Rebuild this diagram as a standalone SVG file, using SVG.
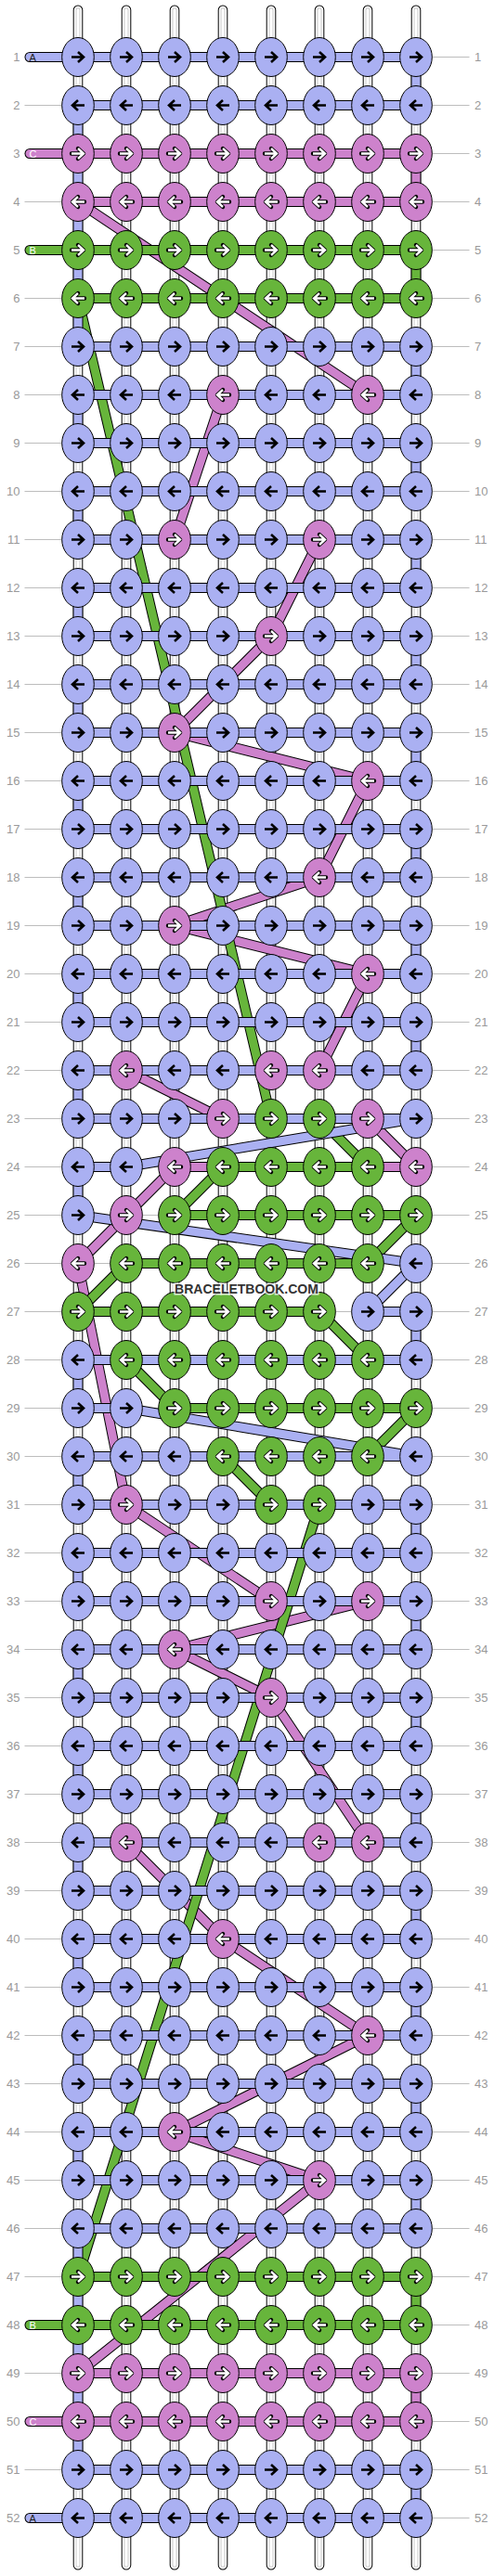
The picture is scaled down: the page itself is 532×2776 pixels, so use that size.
<svg xmlns="http://www.w3.org/2000/svg" xmlns:xlink="http://www.w3.org/1999/xlink" width="532" height="2776" viewBox="0 0 532 2776">
<style>
.gl{fill:none;stroke:#bdbdbd;stroke-width:1}
.ln{font-family:"Liberation Sans",Arial,sans-serif;font-size:13px;fill:#999}
.le{text-anchor:end}
.s1{fill:none;stroke:#000;stroke-width:10.6;stroke-linecap:round}
.s2{fill:none;stroke:#fff;stroke-width:8.6;stroke-linecap:round}
.s3{fill:none;stroke:#c8c8c8;stroke-width:5;stroke-linecap:round}
.s4{fill:none;stroke:#fff;stroke-width:3;stroke-linecap:round}
.to{fill:none;stroke:#000;stroke-width:11;stroke-linecap:round;stroke-linejoin:round}
.tc{fill:none;stroke-width:9;stroke-linecap:round;stroke-linejoin:round}
.cp{stroke:#cd82cc}
.cg{stroke:#67b53b}
.cb{stroke:#aab0f2}
.kb{fill:#aab0f2;stroke:#000;stroke-width:1}
.kp{fill:#cd82cc;stroke:#000;stroke-width:1}
.kg{fill:#67b53b;stroke:#000;stroke-width:1}
.ab{fill:none;stroke:#000;stroke-width:2.6}
.ao{fill:none;stroke:#000;stroke-width:4.4;stroke-linejoin:round;stroke-linecap:round}
.aw{fill:none;stroke:#fff;stroke-width:2.4}
.pl{font-family:"Liberation Sans",Arial,sans-serif;font-size:11px}
.wm{font-family:"Liberation Sans",Arial,sans-serif;font-weight:bold;font-size:14px;fill:#333;text-anchor:middle;stroke:#fff;stroke-opacity:.75;stroke-width:3;paint-order:stroke}
</style>
<defs>
<path id="st" d="M0,-50.7V2702.7M52,-50.7V2702.7M104,-50.7V2702.7M156,-50.7V2702.7M208,-50.7V2702.7M260,-50.7V2702.7M312,-50.7V2702.7M364,-50.7V2702.7"/>
<path id="tP" d="M-52,104H364V156H0L312,364H156L104,520H260L208,624L104,728L312,780L260,884L104,936L312,988L260,1092H52L156,1144H312L364,1196H104L52,1248L0,1300L52,1560L208,1664H312L104,1716L208,1768L312,1924H52L156,2028L312,2132L104,2236L260,2288L0,2496H364V2548H-52"/>
<path id="tG" d="M-52,208H364V260H0L208,1144H260L312,1196H156L104,1248H364L312,1300H52L0,1352H260L312,1404H52L104,1456H364L312,1508H156L208,1560H260L0,2392H364V2444H-52"/>
<path id="tB" d="M-52,0H364V52H0V312H364V364H0V416H364V468H0V520H364V572H0V624H364V676H0V728H364V780H0V832H364V884H0V936H364V988H0V1040H364V1092H0V1144H364L52,1196H0V1248L364,1300L312,1352H364V1404H0V1456H52L364,1508H0V1560H364V1612H0V1664H364V1716H0V1768H364V1820H0V1872H364V1924H0V1976H364V2028H0V2080H364V2132H0V2184H364V2236H0V2288H364V2340H0V2600H364V2652H-52"/>
<path id="aR" d="M-7,0H5M0,-5.5L6,0L0,5.5"/>
<path id="aL" d="M7,0H-5M0,-5.5L-6,0L0,5.5"/>
<g id="bR"><ellipse class="kb" rx="17.3" ry="21"/><use href="#aR" class="ab"/></g>
<g id="bL"><ellipse class="kb" rx="17.3" ry="21"/><use href="#aL" class="ab"/></g>
<g id="pR"><ellipse class="kp" rx="17.3" ry="21"/><use href="#aR" class="ao"/><use href="#aR" class="aw"/></g>
<g id="pL"><ellipse class="kp" rx="17.3" ry="21"/><use href="#aL" class="ao"/><use href="#aL" class="aw"/></g>
<g id="gR"><ellipse class="kg" rx="17.3" ry="21"/><use href="#aR" class="ao"/><use href="#aR" class="aw"/></g>
<g id="gL"><ellipse class="kg" rx="17.3" ry="21"/><use href="#aL" class="ao"/><use href="#aL" class="aw"/></g>
</defs>
<rect width="532" height="2776" fill="#fff"/>
<g transform="translate(84,61.5)">
<path class="gl" d="M-57.5,0h479M-57.5,52h479M-57.5,104h479M-57.5,156h479M-57.5,208h479M-57.5,260h479M-57.5,312h479M-57.5,364h479M-57.5,416h479M-57.5,468h479M-57.5,520h479M-57.5,572h479M-57.5,624h479M-57.5,676h479M-57.5,728h479M-57.5,780h479M-57.5,832h479M-57.5,884h479M-57.5,936h479M-57.5,988h479M-57.5,1040h479M-57.5,1092h479M-57.5,1144h479M-57.5,1196h479M-57.5,1248h479M-57.5,1300h479M-57.5,1352h479M-57.5,1404h479M-57.5,1456h479M-57.5,1508h479M-57.5,1560h479M-57.5,1612h479M-57.5,1664h479M-57.5,1716h479M-57.5,1768h479M-57.5,1820h479M-57.5,1872h479M-57.5,1924h479M-57.5,1976h479M-57.5,2028h479M-57.5,2080h479M-57.5,2132h479M-57.5,2184h479M-57.5,2236h479M-57.5,2288h479M-57.5,2340h479M-57.5,2392h479M-57.5,2444h479M-57.5,2496h479M-57.5,2548h479M-57.5,2600h479M-57.5,2652h479"/>
<g class="ln le" transform="translate(-62.5,4.6)">
<text y="0">1</text><text y="52">2</text><text y="104">3</text><text y="156">4</text><text y="208">5</text><text y="260">6</text><text y="312">7</text><text y="364">8</text><text y="416">9</text><text y="468">10</text><text y="520">11</text><text y="572">12</text><text y="624">13</text><text y="676">14</text><text y="728">15</text><text y="780">16</text><text y="832">17</text><text y="884">18</text><text y="936">19</text><text y="988">20</text><text y="1040">21</text><text y="1092">22</text><text y="1144">23</text><text y="1196">24</text><text y="1248">25</text><text y="1300">26</text><text y="1352">27</text><text y="1404">28</text><text y="1456">29</text><text y="1508">30</text><text y="1560">31</text><text y="1612">32</text><text y="1664">33</text><text y="1716">34</text><text y="1768">35</text><text y="1820">36</text><text y="1872">37</text><text y="1924">38</text><text y="1976">39</text><text y="2028">40</text><text y="2080">41</text><text y="2132">42</text><text y="2184">43</text><text y="2236">44</text><text y="2288">45</text><text y="2340">46</text><text y="2392">47</text><text y="2444">48</text><text y="2496">49</text><text y="2548">50</text><text y="2600">51</text><text y="2652">52</text>
</g>
<g class="ln" transform="translate(427,4.6)">
<text y="0">1</text><text y="52">2</text><text y="104">3</text><text y="156">4</text><text y="208">5</text><text y="260">6</text><text y="312">7</text><text y="364">8</text><text y="416">9</text><text y="468">10</text><text y="520">11</text><text y="572">12</text><text y="624">13</text><text y="676">14</text><text y="728">15</text><text y="780">16</text><text y="832">17</text><text y="884">18</text><text y="936">19</text><text y="988">20</text><text y="1040">21</text><text y="1092">22</text><text y="1144">23</text><text y="1196">24</text><text y="1248">25</text><text y="1300">26</text><text y="1352">27</text><text y="1404">28</text><text y="1456">29</text><text y="1508">30</text><text y="1560">31</text><text y="1612">32</text><text y="1664">33</text><text y="1716">34</text><text y="1768">35</text><text y="1820">36</text><text y="1872">37</text><text y="1924">38</text><text y="1976">39</text><text y="2028">40</text><text y="2080">41</text><text y="2132">42</text><text y="2184">43</text><text y="2236">44</text><text y="2288">45</text><text y="2340">46</text><text y="2392">47</text><text y="2444">48</text><text y="2496">49</text><text y="2548">50</text><text y="2600">51</text><text y="2652">52</text>
</g>
<g id="connectors">
<use href="#st" class="s1"/><use href="#st" class="s2"/><use href="#st" class="s3"/><use href="#st" class="s4"/>
<use href="#tP" class="to"/><use href="#tP" class="tc cp"/>
<use href="#tG" class="to"/><use href="#tG" class="tc cg"/>
<use href="#tB" class="to"/><use href="#tB" class="tc cb"/>
</g>
<g class="pl">
<text x="-52.5" y="4" fill="#222">A</text><text x="-52.5" y="108" fill="#fff">C</text><text x="-52.5" y="212" fill="#fff">B</text>
<text x="-52.5" y="2448" fill="#fff">B</text><text x="-52.5" y="2552" fill="#fff">C</text><text x="-52.5" y="2656" fill="#222">A</text>
</g>
<g id="knots">
<g id="row1"><use id="n1_1" href="#bR"/><use id="n1_2" href="#bR" x="52"/><use id="n1_3" href="#bR" x="104"/><use id="n1_4" href="#bR" x="156"/><use id="n1_5" href="#bR" x="208"/><use id="n1_6" href="#bR" x="260"/><use id="n1_7" href="#bR" x="312"/><use id="n1_8" href="#bR" x="364"/></g>
<g id="row2" transform="translate(0,52)"><use id="n2_1" href="#bL"/><use id="n2_2" href="#bL" x="52"/><use id="n2_3" href="#bL" x="104"/><use id="n2_4" href="#bL" x="156"/><use id="n2_5" href="#bL" x="208"/><use id="n2_6" href="#bL" x="260"/><use id="n2_7" href="#bL" x="312"/><use id="n2_8" href="#bL" x="364"/></g>
<g id="row3" transform="translate(0,104)"><use id="n3_1" href="#pR"/><use id="n3_2" href="#pR" x="52"/><use id="n3_3" href="#pR" x="104"/><use id="n3_4" href="#pR" x="156"/><use id="n3_5" href="#pR" x="208"/><use id="n3_6" href="#pR" x="260"/><use id="n3_7" href="#pR" x="312"/><use id="n3_8" href="#pR" x="364"/></g>
<g id="row4" transform="translate(0,156)"><use id="n4_1" href="#pL"/><use id="n4_2" href="#pL" x="52"/><use id="n4_3" href="#pL" x="104"/><use id="n4_4" href="#pL" x="156"/><use id="n4_5" href="#pL" x="208"/><use id="n4_6" href="#pL" x="260"/><use id="n4_7" href="#pL" x="312"/><use id="n4_8" href="#pL" x="364"/></g>
<g id="row5" transform="translate(0,208)"><use id="n5_1" href="#gR"/><use id="n5_2" href="#gR" x="52"/><use id="n5_3" href="#gR" x="104"/><use id="n5_4" href="#gR" x="156"/><use id="n5_5" href="#gR" x="208"/><use id="n5_6" href="#gR" x="260"/><use id="n5_7" href="#gR" x="312"/><use id="n5_8" href="#gR" x="364"/></g>
<g id="row6" transform="translate(0,260)"><use id="n6_1" href="#gL"/><use id="n6_2" href="#gL" x="52"/><use id="n6_3" href="#gL" x="104"/><use id="n6_4" href="#gL" x="156"/><use id="n6_5" href="#gL" x="208"/><use id="n6_6" href="#gL" x="260"/><use id="n6_7" href="#gL" x="312"/><use id="n6_8" href="#gL" x="364"/></g>
<g id="row7" transform="translate(0,312)"><use id="n7_1" href="#bR"/><use id="n7_2" href="#bR" x="52"/><use id="n7_3" href="#bR" x="104"/><use id="n7_4" href="#bR" x="156"/><use id="n7_5" href="#bR" x="208"/><use id="n7_6" href="#bR" x="260"/><use id="n7_7" href="#bR" x="312"/><use id="n7_8" href="#bR" x="364"/></g>
<g id="row8" transform="translate(0,364)"><use id="n8_1" href="#bL"/><use id="n8_2" href="#bL" x="52"/><use id="n8_3" href="#bL" x="104"/><use id="n8_4" href="#pL" x="156"/><use id="n8_5" href="#bL" x="208"/><use id="n8_6" href="#bL" x="260"/><use id="n8_7" href="#pL" x="312"/><use id="n8_8" href="#bL" x="364"/></g>
<g id="row9" transform="translate(0,416)"><use id="n9_1" href="#bR"/><use id="n9_2" href="#bR" x="52"/><use id="n9_3" href="#bR" x="104"/><use id="n9_4" href="#bR" x="156"/><use id="n9_5" href="#bR" x="208"/><use id="n9_6" href="#bR" x="260"/><use id="n9_7" href="#bR" x="312"/><use id="n9_8" href="#bR" x="364"/></g>
<g id="row10" transform="translate(0,468)"><use id="n10_1" href="#bL"/><use id="n10_2" href="#bL" x="52"/><use id="n10_3" href="#bL" x="104"/><use id="n10_4" href="#bL" x="156"/><use id="n10_5" href="#bL" x="208"/><use id="n10_6" href="#bL" x="260"/><use id="n10_7" href="#bL" x="312"/><use id="n10_8" href="#bL" x="364"/></g>
<g id="row11" transform="translate(0,520)"><use id="n11_1" href="#bR"/><use id="n11_2" href="#bR" x="52"/><use id="n11_3" href="#pR" x="104"/><use id="n11_4" href="#bR" x="156"/><use id="n11_5" href="#bR" x="208"/><use id="n11_6" href="#pR" x="260"/><use id="n11_7" href="#bR" x="312"/><use id="n11_8" href="#bR" x="364"/></g>
<g id="row12" transform="translate(0,572)"><use id="n12_1" href="#bL"/><use id="n12_2" href="#bL" x="52"/><use id="n12_3" href="#bL" x="104"/><use id="n12_4" href="#bL" x="156"/><use id="n12_5" href="#bL" x="208"/><use id="n12_6" href="#bL" x="260"/><use id="n12_7" href="#bL" x="312"/><use id="n12_8" href="#bL" x="364"/></g>
<g id="row13" transform="translate(0,624)"><use id="n13_1" href="#bR"/><use id="n13_2" href="#bR" x="52"/><use id="n13_3" href="#bR" x="104"/><use id="n13_4" href="#bR" x="156"/><use id="n13_5" href="#pR" x="208"/><use id="n13_6" href="#bR" x="260"/><use id="n13_7" href="#bR" x="312"/><use id="n13_8" href="#bR" x="364"/></g>
<g id="row14" transform="translate(0,676)"><use id="n14_1" href="#bL"/><use id="n14_2" href="#bL" x="52"/><use id="n14_3" href="#bL" x="104"/><use id="n14_4" href="#bL" x="156"/><use id="n14_5" href="#bL" x="208"/><use id="n14_6" href="#bL" x="260"/><use id="n14_7" href="#bL" x="312"/><use id="n14_8" href="#bL" x="364"/></g>
<g id="row15" transform="translate(0,728)"><use id="n15_1" href="#bR"/><use id="n15_2" href="#bR" x="52"/><use id="n15_3" href="#pR" x="104"/><use id="n15_4" href="#bR" x="156"/><use id="n15_5" href="#bR" x="208"/><use id="n15_6" href="#bR" x="260"/><use id="n15_7" href="#bR" x="312"/><use id="n15_8" href="#bR" x="364"/></g>
<g id="row16" transform="translate(0,780)"><use id="n16_1" href="#bL"/><use id="n16_2" href="#bL" x="52"/><use id="n16_3" href="#bL" x="104"/><use id="n16_4" href="#bL" x="156"/><use id="n16_5" href="#bL" x="208"/><use id="n16_6" href="#bL" x="260"/><use id="n16_7" href="#pL" x="312"/><use id="n16_8" href="#bL" x="364"/></g>
<g id="row17" transform="translate(0,832)"><use id="n17_1" href="#bR"/><use id="n17_2" href="#bR" x="52"/><use id="n17_3" href="#bR" x="104"/><use id="n17_4" href="#bR" x="156"/><use id="n17_5" href="#bR" x="208"/><use id="n17_6" href="#bR" x="260"/><use id="n17_7" href="#bR" x="312"/><use id="n17_8" href="#bR" x="364"/></g>
<g id="row18" transform="translate(0,884)"><use id="n18_1" href="#bL"/><use id="n18_2" href="#bL" x="52"/><use id="n18_3" href="#bL" x="104"/><use id="n18_4" href="#bL" x="156"/><use id="n18_5" href="#bL" x="208"/><use id="n18_6" href="#pL" x="260"/><use id="n18_7" href="#bL" x="312"/><use id="n18_8" href="#bL" x="364"/></g>
<g id="row19" transform="translate(0,936)"><use id="n19_1" href="#bR"/><use id="n19_2" href="#bR" x="52"/><use id="n19_3" href="#pR" x="104"/><use id="n19_4" href="#bR" x="156"/><use id="n19_5" href="#bR" x="208"/><use id="n19_6" href="#bR" x="260"/><use id="n19_7" href="#bR" x="312"/><use id="n19_8" href="#bR" x="364"/></g>
<g id="row20" transform="translate(0,988)"><use id="n20_1" href="#bL"/><use id="n20_2" href="#bL" x="52"/><use id="n20_3" href="#bL" x="104"/><use id="n20_4" href="#bL" x="156"/><use id="n20_5" href="#bL" x="208"/><use id="n20_6" href="#bL" x="260"/><use id="n20_7" href="#pL" x="312"/><use id="n20_8" href="#bL" x="364"/></g>
<g id="row21" transform="translate(0,1040)"><use id="n21_1" href="#bR"/><use id="n21_2" href="#bR" x="52"/><use id="n21_3" href="#bR" x="104"/><use id="n21_4" href="#bR" x="156"/><use id="n21_5" href="#bR" x="208"/><use id="n21_6" href="#bR" x="260"/><use id="n21_7" href="#bR" x="312"/><use id="n21_8" href="#bR" x="364"/></g>
<g id="row22" transform="translate(0,1092)"><use id="n22_1" href="#bL"/><use id="n22_2" href="#pL" x="52"/><use id="n22_3" href="#bL" x="104"/><use id="n22_4" href="#bL" x="156"/><use id="n22_5" href="#pL" x="208"/><use id="n22_6" href="#pL" x="260"/><use id="n22_7" href="#bL" x="312"/><use id="n22_8" href="#bL" x="364"/></g>
<g id="row23" transform="translate(0,1144)"><use id="n23_1" href="#bR"/><use id="n23_2" href="#bR" x="52"/><use id="n23_3" href="#bR" x="104"/><use id="n23_4" href="#pR" x="156"/><use id="n23_5" href="#gR" x="208"/><use id="n23_6" href="#gR" x="260"/><use id="n23_7" href="#pR" x="312"/><use id="n23_8" href="#bR" x="364"/></g>
<g id="row24" transform="translate(0,1196)"><use id="n24_1" href="#bL"/><use id="n24_2" href="#bL" x="52"/><use id="n24_3" href="#pL" x="104"/><use id="n24_4" href="#gL" x="156"/><use id="n24_5" href="#gL" x="208"/><use id="n24_6" href="#gL" x="260"/><use id="n24_7" href="#gL" x="312"/><use id="n24_8" href="#pL" x="364"/></g>
<g id="row25" transform="translate(0,1248)"><use id="n25_1" href="#bR"/><use id="n25_2" href="#pR" x="52"/><use id="n25_3" href="#gR" x="104"/><use id="n25_4" href="#gR" x="156"/><use id="n25_5" href="#gR" x="208"/><use id="n25_6" href="#gR" x="260"/><use id="n25_7" href="#gR" x="312"/><use id="n25_8" href="#gR" x="364"/></g>
<g id="row26" transform="translate(0,1300)"><use id="n26_1" href="#pL"/><use id="n26_2" href="#gL" x="52"/><use id="n26_3" href="#gL" x="104"/><use id="n26_4" href="#gL" x="156"/><use id="n26_5" href="#gL" x="208"/><use id="n26_6" href="#gL" x="260"/><use id="n26_7" href="#gL" x="312"/><use id="n26_8" href="#bL" x="364"/></g>
<g id="row27" transform="translate(0,1352)"><use id="n27_1" href="#gR"/><use id="n27_2" href="#gR" x="52"/><use id="n27_3" href="#gR" x="104"/><use id="n27_4" href="#gR" x="156"/><use id="n27_5" href="#gR" x="208"/><use id="n27_6" href="#gR" x="260"/><use id="n27_7" href="#bR" x="312"/><use id="n27_8" href="#bR" x="364"/></g>
<g id="row28" transform="translate(0,1404)"><use id="n28_1" href="#bL"/><use id="n28_2" href="#gL" x="52"/><use id="n28_3" href="#gL" x="104"/><use id="n28_4" href="#gL" x="156"/><use id="n28_5" href="#gL" x="208"/><use id="n28_6" href="#gL" x="260"/><use id="n28_7" href="#gL" x="312"/><use id="n28_8" href="#bL" x="364"/></g>
<g id="row29" transform="translate(0,1456)"><use id="n29_1" href="#bR"/><use id="n29_2" href="#bR" x="52"/><use id="n29_3" href="#gR" x="104"/><use id="n29_4" href="#gR" x="156"/><use id="n29_5" href="#gR" x="208"/><use id="n29_6" href="#gR" x="260"/><use id="n29_7" href="#gR" x="312"/><use id="n29_8" href="#gR" x="364"/></g>
<g id="row30" transform="translate(0,1508)"><use id="n30_1" href="#bL"/><use id="n30_2" href="#bL" x="52"/><use id="n30_3" href="#bL" x="104"/><use id="n30_4" href="#gL" x="156"/><use id="n30_5" href="#gL" x="208"/><use id="n30_6" href="#gL" x="260"/><use id="n30_7" href="#gL" x="312"/><use id="n30_8" href="#bL" x="364"/></g>
<g id="row31" transform="translate(0,1560)"><use id="n31_1" href="#bR"/><use id="n31_2" href="#pR" x="52"/><use id="n31_3" href="#bR" x="104"/><use id="n31_4" href="#bR" x="156"/><use id="n31_5" href="#gR" x="208"/><use id="n31_6" href="#gR" x="260"/><use id="n31_7" href="#bR" x="312"/><use id="n31_8" href="#bR" x="364"/></g>
<g id="row32" transform="translate(0,1612)"><use id="n32_1" href="#bL"/><use id="n32_2" href="#bL" x="52"/><use id="n32_3" href="#bL" x="104"/><use id="n32_4" href="#bL" x="156"/><use id="n32_5" href="#bL" x="208"/><use id="n32_6" href="#bL" x="260"/><use id="n32_7" href="#bL" x="312"/><use id="n32_8" href="#bL" x="364"/></g>
<g id="row33" transform="translate(0,1664)"><use id="n33_1" href="#bR"/><use id="n33_2" href="#bR" x="52"/><use id="n33_3" href="#bR" x="104"/><use id="n33_4" href="#bR" x="156"/><use id="n33_5" href="#pR" x="208"/><use id="n33_6" href="#bR" x="260"/><use id="n33_7" href="#pR" x="312"/><use id="n33_8" href="#bR" x="364"/></g>
<g id="row34" transform="translate(0,1716)"><use id="n34_1" href="#bL"/><use id="n34_2" href="#bL" x="52"/><use id="n34_3" href="#pL" x="104"/><use id="n34_4" href="#bL" x="156"/><use id="n34_5" href="#bL" x="208"/><use id="n34_6" href="#bL" x="260"/><use id="n34_7" href="#bL" x="312"/><use id="n34_8" href="#bL" x="364"/></g>
<g id="row35" transform="translate(0,1768)"><use id="n35_1" href="#bR"/><use id="n35_2" href="#bR" x="52"/><use id="n35_3" href="#bR" x="104"/><use id="n35_4" href="#bR" x="156"/><use id="n35_5" href="#pR" x="208"/><use id="n35_6" href="#bR" x="260"/><use id="n35_7" href="#bR" x="312"/><use id="n35_8" href="#bR" x="364"/></g>
<g id="row36" transform="translate(0,1820)"><use id="n36_1" href="#bL"/><use id="n36_2" href="#bL" x="52"/><use id="n36_3" href="#bL" x="104"/><use id="n36_4" href="#bL" x="156"/><use id="n36_5" href="#bL" x="208"/><use id="n36_6" href="#bL" x="260"/><use id="n36_7" href="#bL" x="312"/><use id="n36_8" href="#bL" x="364"/></g>
<g id="row37" transform="translate(0,1872)"><use id="n37_1" href="#bR"/><use id="n37_2" href="#bR" x="52"/><use id="n37_3" href="#bR" x="104"/><use id="n37_4" href="#bR" x="156"/><use id="n37_5" href="#bR" x="208"/><use id="n37_6" href="#bR" x="260"/><use id="n37_7" href="#bR" x="312"/><use id="n37_8" href="#bR" x="364"/></g>
<g id="row38" transform="translate(0,1924)"><use id="n38_1" href="#bL"/><use id="n38_2" href="#pL" x="52"/><use id="n38_3" href="#bL" x="104"/><use id="n38_4" href="#bL" x="156"/><use id="n38_5" href="#bL" x="208"/><use id="n38_6" href="#pL" x="260"/><use id="n38_7" href="#pL" x="312"/><use id="n38_8" href="#bL" x="364"/></g>
<g id="row39" transform="translate(0,1976)"><use id="n39_1" href="#bR"/><use id="n39_2" href="#bR" x="52"/><use id="n39_3" href="#bR" x="104"/><use id="n39_4" href="#bR" x="156"/><use id="n39_5" href="#bR" x="208"/><use id="n39_6" href="#bR" x="260"/><use id="n39_7" href="#bR" x="312"/><use id="n39_8" href="#bR" x="364"/></g>
<g id="row40" transform="translate(0,2028)"><use id="n40_1" href="#bL"/><use id="n40_2" href="#bL" x="52"/><use id="n40_3" href="#bL" x="104"/><use id="n40_4" href="#pL" x="156"/><use id="n40_5" href="#bL" x="208"/><use id="n40_6" href="#bL" x="260"/><use id="n40_7" href="#bL" x="312"/><use id="n40_8" href="#bL" x="364"/></g>
<g id="row41" transform="translate(0,2080)"><use id="n41_1" href="#bR"/><use id="n41_2" href="#bR" x="52"/><use id="n41_3" href="#bR" x="104"/><use id="n41_4" href="#bR" x="156"/><use id="n41_5" href="#bR" x="208"/><use id="n41_6" href="#bR" x="260"/><use id="n41_7" href="#bR" x="312"/><use id="n41_8" href="#bR" x="364"/></g>
<g id="row42" transform="translate(0,2132)"><use id="n42_1" href="#bL"/><use id="n42_2" href="#bL" x="52"/><use id="n42_3" href="#bL" x="104"/><use id="n42_4" href="#bL" x="156"/><use id="n42_5" href="#bL" x="208"/><use id="n42_6" href="#bL" x="260"/><use id="n42_7" href="#pL" x="312"/><use id="n42_8" href="#bL" x="364"/></g>
<g id="row43" transform="translate(0,2184)"><use id="n43_1" href="#bR"/><use id="n43_2" href="#bR" x="52"/><use id="n43_3" href="#bR" x="104"/><use id="n43_4" href="#bR" x="156"/><use id="n43_5" href="#bR" x="208"/><use id="n43_6" href="#bR" x="260"/><use id="n43_7" href="#bR" x="312"/><use id="n43_8" href="#bR" x="364"/></g>
<g id="row44" transform="translate(0,2236)"><use id="n44_1" href="#bL"/><use id="n44_2" href="#bL" x="52"/><use id="n44_3" href="#pL" x="104"/><use id="n44_4" href="#bL" x="156"/><use id="n44_5" href="#bL" x="208"/><use id="n44_6" href="#bL" x="260"/><use id="n44_7" href="#bL" x="312"/><use id="n44_8" href="#bL" x="364"/></g>
<g id="row45" transform="translate(0,2288)"><use id="n45_1" href="#bR"/><use id="n45_2" href="#bR" x="52"/><use id="n45_3" href="#bR" x="104"/><use id="n45_4" href="#bR" x="156"/><use id="n45_5" href="#bR" x="208"/><use id="n45_6" href="#pR" x="260"/><use id="n45_7" href="#bR" x="312"/><use id="n45_8" href="#bR" x="364"/></g>
<g id="row46" transform="translate(0,2340)"><use id="n46_1" href="#bL"/><use id="n46_2" href="#bL" x="52"/><use id="n46_3" href="#bL" x="104"/><use id="n46_4" href="#bL" x="156"/><use id="n46_5" href="#bL" x="208"/><use id="n46_6" href="#bL" x="260"/><use id="n46_7" href="#bL" x="312"/><use id="n46_8" href="#bL" x="364"/></g>
<g id="row47" transform="translate(0,2392)"><use id="n47_1" href="#gR"/><use id="n47_2" href="#gR" x="52"/><use id="n47_3" href="#gR" x="104"/><use id="n47_4" href="#gR" x="156"/><use id="n47_5" href="#gR" x="208"/><use id="n47_6" href="#gR" x="260"/><use id="n47_7" href="#gR" x="312"/><use id="n47_8" href="#gR" x="364"/></g>
<g id="row48" transform="translate(0,2444)"><use id="n48_1" href="#gL"/><use id="n48_2" href="#gL" x="52"/><use id="n48_3" href="#gL" x="104"/><use id="n48_4" href="#gL" x="156"/><use id="n48_5" href="#gL" x="208"/><use id="n48_6" href="#gL" x="260"/><use id="n48_7" href="#gL" x="312"/><use id="n48_8" href="#gL" x="364"/></g>
<g id="row49" transform="translate(0,2496)"><use id="n49_1" href="#pR"/><use id="n49_2" href="#pR" x="52"/><use id="n49_3" href="#pR" x="104"/><use id="n49_4" href="#pR" x="156"/><use id="n49_5" href="#pR" x="208"/><use id="n49_6" href="#pR" x="260"/><use id="n49_7" href="#pR" x="312"/><use id="n49_8" href="#pR" x="364"/></g>
<g id="row50" transform="translate(0,2548)"><use id="n50_1" href="#pL"/><use id="n50_2" href="#pL" x="52"/><use id="n50_3" href="#pL" x="104"/><use id="n50_4" href="#pL" x="156"/><use id="n50_5" href="#pL" x="208"/><use id="n50_6" href="#pL" x="260"/><use id="n50_7" href="#pL" x="312"/><use id="n50_8" href="#pL" x="364"/></g>
<g id="row51" transform="translate(0,2600)"><use id="n51_1" href="#bR"/><use id="n51_2" href="#bR" x="52"/><use id="n51_3" href="#bR" x="104"/><use id="n51_4" href="#bR" x="156"/><use id="n51_5" href="#bR" x="208"/><use id="n51_6" href="#bR" x="260"/><use id="n51_7" href="#bR" x="312"/><use id="n51_8" href="#bR" x="364"/></g>
<g id="row52" transform="translate(0,2652)"><use id="n52_1" href="#bL"/><use id="n52_2" href="#bL" x="52"/><use id="n52_3" href="#bL" x="104"/><use id="n52_4" href="#bL" x="156"/><use id="n52_5" href="#bL" x="208"/><use id="n52_6" href="#bL" x="260"/><use id="n52_7" href="#bL" x="312"/><use id="n52_8" href="#bL" x="364"/></g>
</g>
</g>
<text class="wm" x="265.5" y="1394">BRACELETBOOK.COM</text>
</svg>
